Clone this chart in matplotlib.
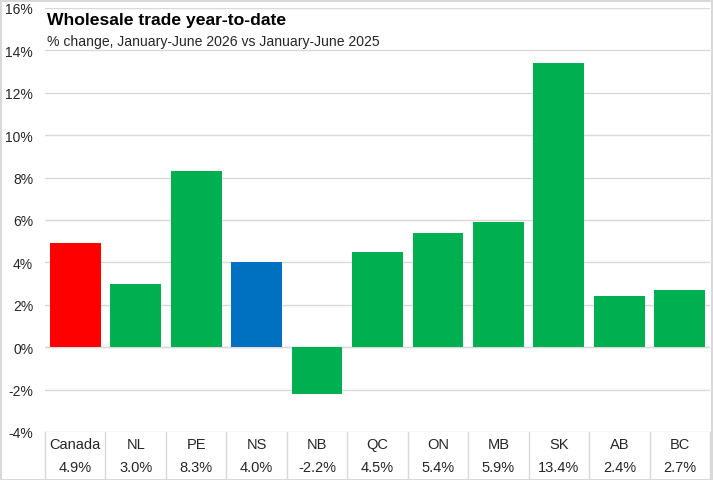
import matplotlib
matplotlib.use('Agg')
import matplotlib.pyplot as plt
from matplotlib.patches import Rectangle
from matplotlib.lines import Line2D

regions = ['Canada', 'NL', 'PE', 'NS', 'NB', 'QC', 'ON', 'MB', 'SK', 'AB', 'BC']
pct_change = [4.9, 3.0, 8.3, 4.0, -2.2, 4.5, 5.4, 5.9, 13.4, 2.4, 2.7]
y_ticks = [-4, -2, 0, 2, 4, 6, 8, 10, 12, 14, 16]

plt.rcParams['font.family'] = ['Liberation Sans Narrow', 'Liberation Sans', 'DejaVu Sans']

green = '#00B050'
bar_colors = []
for r in regions:
    if r == 'Canada':
        bar_colors.append('#FF0000')
    elif r == 'NS':
        bar_colors.append('#0070C0')
    else:
        bar_colors.append(green)

W, H = 713, 481
fig = plt.figure(figsize=(W / 100, H / 100), dpi=100)
# plot area in pixels: left 45, right 710, top 9, bottom 433
ax = fig.add_axes([45 / W, 1 - 433 / H, 665 / W, 424 / H])

x = list(range(len(regions)))
ax.bar(x, pct_change, width=0.84, color=bar_colors, zorder=3)

ax.set_xlim(-0.5, len(regions) - 0.5)
ax.set_ylim(-4, 16)
ax.set_yticks(y_ticks)
ax.set_yticklabels([f'{t}%' for t in y_ticks], fontsize=10, color='#262626')
ax.tick_params(axis='y', length=0, pad=8.5)
ax.set_xticks([])
ax.grid(axis='y', color='#D9D9D9', linewidth=1, zorder=0)
for s in ax.spines.values():
    s.set_visible(False)
ax.axhline(0, color='#D9D9D9', linewidth=1, zorder=2)

# data table under the plot
row1 = -(445 - 433) / 424
row2 = -(468 - 433) / 424
bottom = -(480 - 433) / 424
trans = ax.get_xaxis_transform()
for i, r in enumerate(regions):
    ax.text(i, row1, r, transform=trans, ha='center', va='center',
            fontsize=10.5, color='#262626', clip_on=False)
    ax.text(i, row2, f'{pct_change[i]:.1f}%', transform=trans, ha='center', va='center',
            fontsize=10.5, color='#262626', clip_on=False)
for k in range(len(regions) + 1):
    ax.add_line(Line2D([k - 0.5, k - 0.5], [0, bottom], transform=trans,
                       color='#D9D9D9', linewidth=1, clip_on=False))

# title and subtitle
fig.text(47 / W, 1 - 21 / H, 'Wholesale trade year-to-date', fontsize=12.6,
         fontweight='bold', family=['Liberation Sans', 'DejaVu Sans'],
         color='black', va='center', ha='left')
fig.text(47 / W, 1 - 42 / H, '% change, January-June 2026 vs January-June 2025',
         fontsize=10.1, family=['Liberation Sans', 'DejaVu Sans'],
         color='#262626', va='center', ha='left')

# chart border
fig.patches.append(Rectangle((0.5 / W, 0.5 / H), 1 - 2 / W, 1 - 2 / H,
                             transform=fig.transFigure, fill=False,
                             edgecolor='#D9D9D9', linewidth=1.5))

fig.savefig('out.png', dpi=100)
